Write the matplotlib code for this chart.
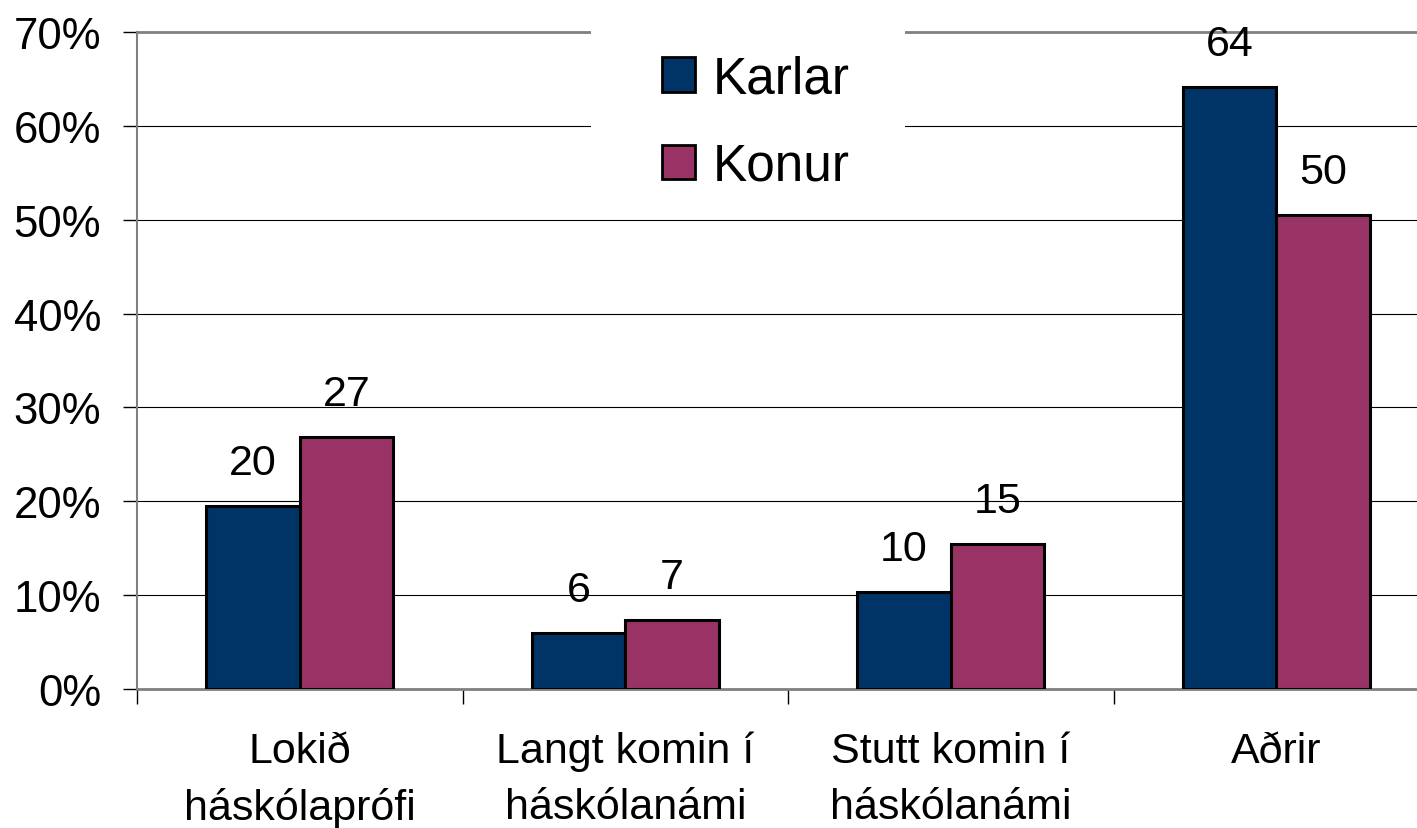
import matplotlib
matplotlib.use("Agg")
import matplotlib.pyplot as plt
import numpy as np
from matplotlib.patches import Rectangle, Patch

plt.rcParams['font.family'] = ['Liberation Sans', 'DejaVu Sans']

categories = ["Lokið\nháskólaprófi", "Langt komin í\nháskólanámi", "Stutt komin í\nháskólanámi", "Aðrir"]
karlar = [19.5, 6.0, 10.3, 64.1]
konur = [26.9, 7.4, 15.5, 50.5]
karlar_lbl = ["20", "6", "10", "64"]
konur_lbl = ["27", "7", "15", "50"]
yticks = [0, 10, 20, 30, 40, 50, 60, 70]

c_karlar = "#003366"
c_konur = "#993366"

W, H = 1417, 829
fig = plt.figure(figsize=(W / 100, H / 100), dpi=100)
ax = fig.add_axes([137 / W, 1 - 690 / H, 1302 / W, 657 / H])

x = np.arange(len(categories))
bw = 0.288
ax.bar(x - bw / 2, karlar, bw, color=c_karlar, edgecolor="black", linewidth=2.2, zorder=3)
ax.bar(x + bw / 2, konur, bw, color=c_konur, edgecolor="black", linewidth=2.2, zorder=3)

for i in range(len(categories)):
    ax.annotate(karlar_lbl[i], (x[i] - bw / 2, karlar[i]), xytext=(0, 23), textcoords="offset points",
                ha="center", va="baseline", fontsize=31)
    ax.annotate(konur_lbl[i], (x[i] + bw / 2, konur[i]), xytext=(0, 23), textcoords="offset points",
                ha="center", va="baseline", fontsize=31)

ax.set_xlim(-0.5, 3.5)
ax.set_ylim(0, 70)
ax.set_yticks(yticks)
ax.set_yticklabels([f"{v}%" for v in yticks])
for v in yticks[1:-1]:
    ax.axhline(v, color="black", linewidth=0.8, zorder=1)

ax.set_xticks(x)
ax.set_xticklabels(categories, fontsize=31, linespacing=1.52)
ax.set_xticks(np.arange(-0.5, 4, 1), minor=True)
ax.tick_params(axis="x", which="major", length=0, pad=30)
ax.tick_params(axis="x", which="minor", length=11, width=1, direction="out", color="black")
ax.tick_params(axis="y", length=10, width=1, direction="out", pad=16, labelsize=31.5, color="black")

for s in ["left", "bottom", "top"]:
    ax.spines[s].set_color("#808080")
    ax.spines[s].set_linewidth(2)
ax.spines["left"].set_linewidth(1.5)
ax.spines["right"].set_visible(False)

# white box behind the legend hiding the gridlines
fig.patches.append(Rectangle((591 / W, 1 - 130 / H), (905 - 591) / W, 110 / H,
                             transform=fig.transFigure, facecolor="white", edgecolor="none", zorder=5))
handles = [Patch(facecolor=c_karlar, edgecolor="black", linewidth=2),
           Patch(facecolor=c_konur, edgecolor="black", linewidth=2)]
leg = fig.legend(handles, ["Karlar", "Konur"], loc="upper left", bbox_to_anchor=(636 / W, 1 - 30 / H),
                 frameon=False, fontsize=37, handlelength=0.65, handleheight=0.65,
                 handletextpad=0.35, labelspacing=0.74, borderpad=0)
leg.set_zorder(6)

fig.savefig("out.png", dpi=100)
